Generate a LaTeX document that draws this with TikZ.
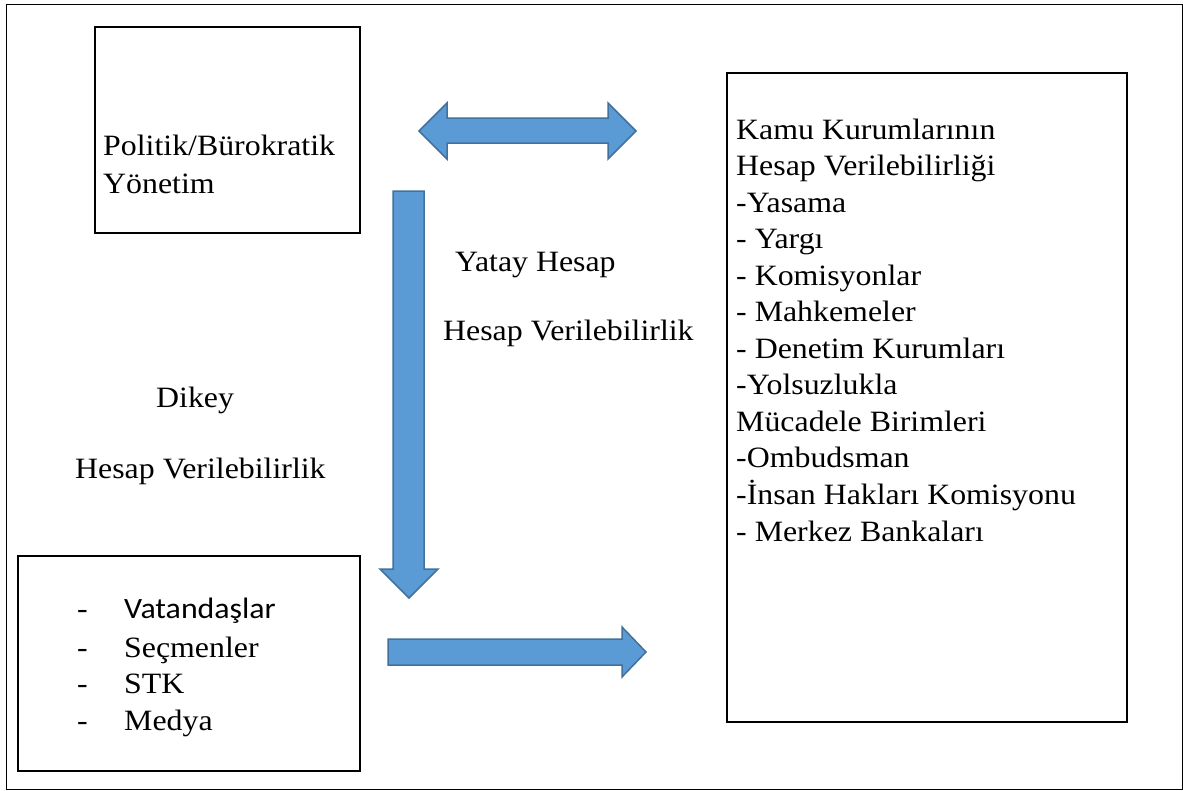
\documentclass[tikz,border=0pt]{standalone}
\usepackage{fontspec}
\setmainfont{Liberation Serif}[FakeStretch=1.08]
\newfontfamily\calib{Carlito}[FakeStretch=1.08]
\definecolor{arrfill}{HTML}{5B9BD5}
\definecolor{arrline}{HTML}{41719C}
\tikzset{
  framebox/.style={draw=black, line width=1.3pt, inner sep=0pt, anchor=north west},
  boxframe/.style={draw=black, line width=2pt, inner sep=0pt, anchor=north west},
  txt/.style={anchor=base west, inner sep=0pt, font=\fontsize{29.5}{36}\selectfont},
  blockarrow/.style={fill=arrfill, draw=arrline, line width=1.5pt, line join=miter},
}
\begin{document}
\begin{tikzpicture}[x=1pt,y=-1pt]
\useasboundingbox (0,0) rectangle (1183,790);
\fill[white] (0,0) rectangle (1183,790);
% outer frame
\node[framebox, minimum width=1176pt, minimum height=785pt] (outer) at (6,4) {};
% boxes
\node[boxframe, minimum width=265pt, minimum height=206pt] (pol) at (94,26) {};
\node[boxframe, minimum width=400pt, minimum height=649pt] (kamu) at (726,72) {};
\node[boxframe, minimum width=342pt, minimum height=215pt] (vat) at (17,555) {};
% texts in top-left box
\node[txt] (p1) at (103,155) {Politik/Bürokratik};
\node[txt] (p2) at (103,193) {Yönetim};
% right box texts
\foreach \t [count=\i] in {Kamu Kurumlarının, Hesap Verilebilirliği, -Yasama, - Yargı, - Komisyonlar, - Mahkemeler, - Denetim Kurumları, -Yolsuzlukla, Mücadele Birimleri, -Ombudsman, -İnsan Hakları Komisyonu, - Merkez Bankaları}
  \node[txt] (r\i) at (736,{139+36.55*(\i-1)}) {\t};
% bottom-left box texts
\node[txt] (d1) at (77,618) {-};
\node[txt] (d2) at (77,657) {-};
\node[txt] (d3) at (77,693) {-};
\node[txt] (d4) at (77,730) {-};
\node[txt, font=\fontsize{29.5}{36}\selectfont\calib] (v1) at (124,618) {Vatandaşlar};
\node[txt] (v2) at (124,657) {Seçmenler};
\node[txt] (v3) at (124,693) {STK};
\node[txt] (v4) at (124,730) {Medya};
% labels
\node[txt] (y1) at (455,271) {Yatay Hesap};
\node[txt] (y2) at (443,340) {Hesap Verilebilirlik};
\node[txt] (k1) at (156,407) {Dikey};
\node[txt] (k2) at (75,478) {Hesap Verilebilirlik};
% block arrows
\draw[blockarrow] (419,131) -- (447,103) -- (447,118) -- (608,118) -- (608,103) -- (636,131) -- (608,159) -- (608,143) -- (447,143) -- (447,159) -- cycle;
\draw[blockarrow] (393,191) -- (424,191) -- (424,569) -- (438,569) -- (409,598) -- (380,569) -- (393,569) -- cycle;
\draw[blockarrow] (388,639) -- (622,639) -- (622,627) -- (646,652) -- (622,677) -- (622,665) -- (388,665) -- cycle;
\end{tikzpicture}
\end{document}
